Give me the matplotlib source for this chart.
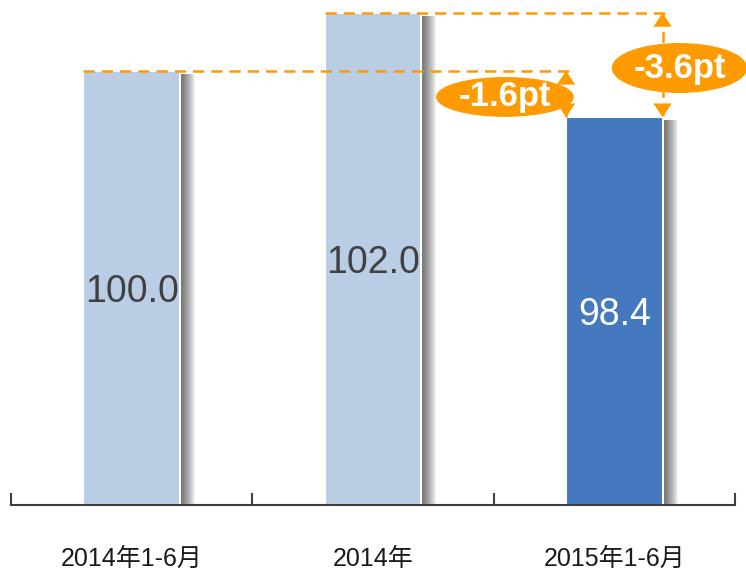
import numpy as np
import matplotlib
matplotlib.use("Agg")
import matplotlib.pyplot as plt
from matplotlib.patches import Ellipse

categories = ["2014年1-6月", "2014年", "2015年1-6月"]
values = [100.0, 102.0, 98.4]
diff_labels = ["-1.6pt", "-3.6pt"]
bar_colors = ["#B9CDE5", "#B9CDE5", "#4479BF"]
label_colors = ["#404040", "#404040", "white"]
orange = "#FF9A00"
base = 85.0

fig = plt.figure(figsize=(7.46, 5.73), dpi=100)
ax = fig.add_axes([11 / 746, 68 / 573, 724 / 746, 505 / 573])
x = np.arange(len(values))
w = 0.4
px = 3 / 724  # one pixel in x data units

# soft shadow on the right side of each bar: stacked translucent strips
for i, v in enumerate(values):
    for k in range(1, 15):
        ax.bar(x[i] + w / 2 + px, v - base - 0.1, bottom=base, width=k * px, align="edge",
               color="black", alpha=0.05, linewidth=0, zorder=1)

ax.bar(x, [v - base for v in values], bottom=base, width=w, color=bar_colors,
       edgecolor="white", linewidth=1.5, zorder=2)

for i, v in enumerate(values):
    ax.text(x[i], (v + base) / 2 - 0.15, f"{v:.1f}", ha="center", va="center",
            fontsize=27, color=label_colors[i], family="Liberation Sans", zorder=3)

# dashed reference lines
dash = (0, (4.5, 2.8))
ax.plot([x[0] - w / 2, x[2] - w / 2 + 0.02], [values[0]] * 2, ls=dash, color=orange, lw=1.8, zorder=4)
ax.plot([x[1] - w / 2, x[2] + w / 2 + 0.01], [values[1]] * 2, ls=dash, color=orange, lw=1.8, zorder=4)

# double arrows
head = "-|>,head_length=0.45,head_width=0.3"
for xa, top in [(x[2] - w / 2, values[0]), (x[2] + w / 2, values[1])]:
    ax.plot([xa, xa], [top, values[2]], ls=dash, color=orange, lw=1.8, zorder=4)
    ax.annotate("", xy=(xa, top), xytext=(xa, top - 0.5),
                arrowprops=dict(arrowstyle=head, color=orange, lw=0, mutation_scale=22,
                                shrinkA=0, shrinkB=0), zorder=5)
    ax.annotate("", xy=(xa, values[2]), xytext=(xa, values[2] + 0.5),
                arrowprops=dict(arrowstyle=head, color=orange, lw=0, mutation_scale=22,
                                shrinkA=0, shrinkB=0), zorder=5)

# ellipse badges
for (cx, cy, ew, eh), txt in zip([(1.547, 99.1, 0.565, 1.33), (2.27, 100.1, 0.555, 1.68)], diff_labels):
    ax.add_patch(Ellipse((cx, cy), ew, eh, color=orange, zorder=6, clip_on=False))
    ax.text(cx, cy, txt, ha="center", va="center", fontsize=25, fontweight="bold",
            color="white", family="Liberation Sans", zorder=7)

ax.set_xlim(-0.5, 2.5)
ax.set_ylim(base, 102.45)
for s in ["top", "left", "right"]:
    ax.spines[s].set_visible(False)
ax.spines["bottom"].set_color("#404040")
ax.spines["bottom"].set_linewidth(1.5)
ax.set_yticks([])
ax.set_xticks([-0.5, 0.5, 1.5, 2.5])
ax.set_xticklabels([])
ax.tick_params(axis="x", which="major", direction="in", length=9, width=1.5, color="#404040")
ax.set_xticks(x, minor=True)
ax.set_xticklabels(categories, minor=True, fontsize=18, color="#1a1a1a",
                   family=["Liberation Sans", "Noto Sans CJK SC"])
ax.tick_params(axis="x", which="minor", length=0, pad=30)

fig.savefig("out.png", dpi=100)
